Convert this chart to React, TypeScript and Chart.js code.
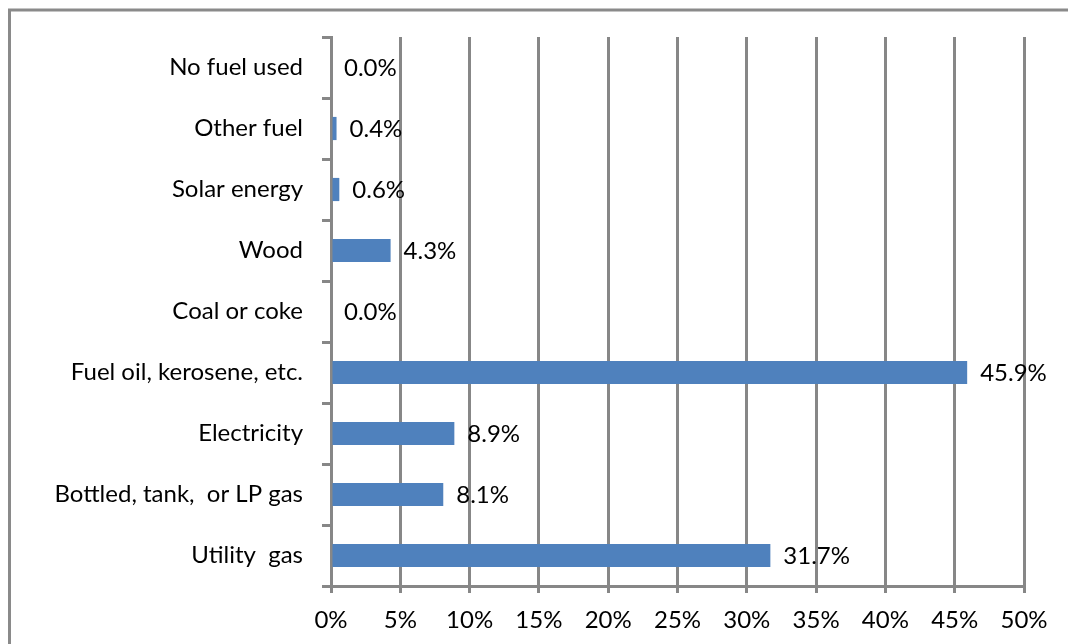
import React, { useEffect, useRef } from "react";
import { Chart, registerables } from "chart.js";

Chart.register(...registerables);

// Share of households by heating fuel (percent)
const categories = [
  "No fuel used",
  "Other fuel",
  "Solar energy",
  "Wood",
  "Coal or coke",
  "Fuel oil, kerosene, etc.",
  "Electricity",
  "Bottled, tank,  or LP gas",
  "Utility  gas",
];
const shares = [0.0, 0.4, 0.6, 4.3, 0.0, 45.9, 8.9, 8.1, 31.7];
const axisMax = 50;
const axisStep = 5;

const FONT = "Lato, 'Open Sans', sans-serif";
const FONT_SIZE = 24;
const GRID = "#878787";
const BAR = "#4f81bd";

// Value labels placed just past the end of each bar
const valueLabels = {
  id: "valueLabels",
  afterDatasetsDraw(chart: any) {
    const { ctx } = chart;
    const meta = chart.getDatasetMeta(0);
    ctx.save();
    ctx.font = `${FONT_SIZE}px ${FONT}`;
    ctx.fillStyle = "#000000";
    ctx.textAlign = "left";
    ctx.textBaseline = "middle";
    meta.data.forEach((bar: any, i: number) => {
      ctx.fillText(`${shares[i].toFixed(1)}%`, bar.x + 13, bar.y + 1);
    });
    ctx.restore();
  },
};

// Frame around the whole chart
const outerFrame = {
  id: "outerFrame",
  afterDraw(chart: any) {
    const { ctx } = chart;
    ctx.save();
    ctx.strokeStyle = "#8a8a8a";
    ctx.lineWidth = 3;
    ctx.strokeRect(9.5, 10, 1200, 800);
    ctx.restore();
  },
};

export default function App() {
  const canvasRef = useRef<HTMLCanvasElement | null>(null);

  useEffect(() => {
    if (!canvasRef.current) return;
    const chart = new Chart(canvasRef.current, {
      type: "bar",
      data: {
        labels: categories,
        datasets: [
          {
            data: shares,
            backgroundColor: BAR,
            borderWidth: 0,
            barPercentage: 0.4,
            categoryPercentage: 0.95,
          },
        ],
      },
      options: {
        indexAxis: "y",
        animation: false,
        responsive: false,
        maintainAspectRatio: false,
        layout: { padding: { left: 0, right: 44, top: 37, bottom: 0 } },
        plugins: {
          legend: { display: false },
          tooltip: { enabled: false },
          title: { display: false },
        },
        scales: {
          x: {
            min: 0,
            max: axisMax,
            afterFit(scale: any) {
              scale.height = 58;
            },
            ticks: {
              stepSize: axisStep,
              padding: 13,
              color: "#000000",
              font: { family: FONT, size: FONT_SIZE },
              callback: (v: any) => `${v}%`,
            },
            grid: {
              color: GRID,
              lineWidth: 3,
              tickLength: 7,
              drawOnChartArea: true,
            },
            border: { color: GRID, width: 3 },
          },
          y: {
            afterFit(scale: any) {
              scale.width = 331;
            },
            ticks: {
              padding: 19,
              color: "#000000",
              font: { family: FONT, size: FONT_SIZE },
              autoSkip: false,
            },
            grid: {
              offset: true,
              color: GRID,
              lineWidth: 3,
              tickLength: 9,
              drawOnChartArea: false,
            },
            border: { color: GRID, width: 3 },
          },
        },
      },
      plugins: [valueLabels, outerFrame],
    });
    return () => chart.destroy();
  }, []);

  return (
    <div
      style={{
        position: "fixed",
        left: 0,
        top: 0,
        width: 1068,
        height: 644,
        background: "#ffffff",
      }}
    >
      <canvas ref={canvasRef} width={1068} height={644} />
    </div>
  );
}
